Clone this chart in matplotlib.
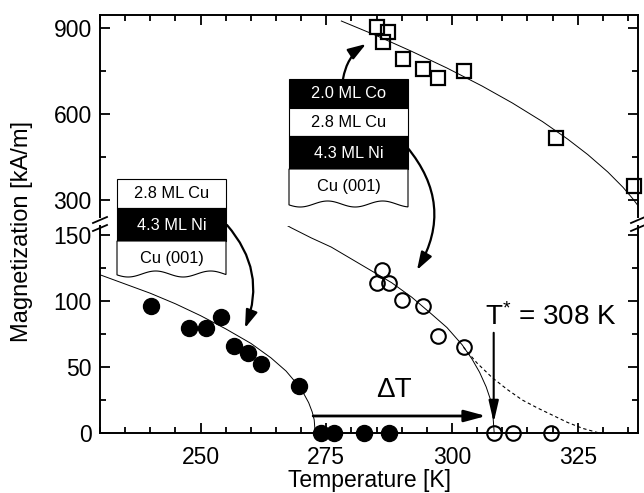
import matplotlib
matplotlib.use("Agg")
import matplotlib.pyplot as plt
import numpy as np
from matplotlib.patches import Rectangle, Polygon, FancyArrowPatch
from matplotlib.ticker import MultipleLocator

plt.rcParams['font.family'] = ['Liberation Sans', 'DejaVu Sans']
plt.rcParams['mathtext.fontset'] = 'custom'
plt.rcParams['mathtext.rm'] = 'Liberation Sans'
plt.rcParams['mathtext.it'] = 'Liberation Sans:italic'

## open squares: Co layer of Co/Cu/Ni/Cu(001) (upper part, kA/m)
co_T = [285.0, 287.3, 286.2, 290.2, 294.3, 297.2, 302.3, 320.6, 336.2]
co_M = [903, 886, 851, 792, 757, 726, 750, 517, 349]
co_fit_T = [278, 285, 292, 299, 306, 312, 318, 323, 327, 331, 334, 336, 338]
co_fit_M = [924, 873, 818, 760, 697, 638, 573, 512, 458, 397, 344, 303, 256]

## open circles: Ni layer in Co/Cu/Ni/Cu(001)
nico_T = [286.0, 285.0, 287.4, 290.0, 294.2, 297.3, 302.3, 308.3, 312.2, 319.6]
nico_M = [124, 114, 114, 101, 96, 73.5, 65, 0, 0, 0]
nico_fit_T = [266, 268, 272, 276, 280, 284, 288, 292, 296, 299, 302, 304, 305.5, 306.8, 307.6, 308.1, 308.4]
nico_fit_M = [160, 155.7, 148, 141, 132, 123, 114, 103, 90, 80, 67, 56, 46, 35, 26, 16, 0]
nico_dash_T = [302.3, 305, 308, 311, 314, 317, 320, 323, 326, 329.3]
nico_dash_M = [65, 53, 42, 33, 25, 19, 13.5, 8, 3.5, 0]

## filled circles: Ni layer in Cu/Ni/Cu(001)
ni_T = [240.2, 247.7, 251.0, 254.0, 256.7, 259.5, 262.0, 269.5, 274.0, 276.5, 282.5, 287.5]
ni_M = [96, 80, 80, 88, 66, 61, 52, 36, 0, 0, 0, 0]
ni_fit_T = [230, 235, 240, 245, 250, 255, 260, 264, 267, 269, 270.5, 271.5, 272.2, 272.6, 272.8]
ni_fit_M = [120, 113, 106, 98, 89, 79, 68, 57, 47, 38, 30, 23, 16, 10, 0]

## annotations
dT_from, dT_to, dT_level = 272.4, 306.8, 12.9
Tstar = 308.3
Tstar_top, Tstar_bot = 76, 8

left_stack = ['2.8 ML Cu', '4.3 ML Ni', 'Cu (001)']
left_dark = [False, True, False]
right_stack = ['2.0 ML Co', '2.8 ML Cu', '4.3 ML Ni', 'Cu (001)']
right_dark = [True, False, True, False]

W, H = 644.0, 493.0
fig = plt.figure(figsize=(W / 100, H / 100), dpi=100)

def px_rect(x0, y0, x1, y1):
    ## pixel box measured from the top-left -> figure fraction
    return [x0 / W, 1 - y1 / H, (x1 - x0) / W, (y1 - y0) / H]

ax_top = fig.add_axes(px_rect(100, 15, 638, 217))
ax_bot = fig.add_axes(px_rect(100, 226, 638, 433))

ax_top.plot(co_fit_T, co_fit_M, 'k-', lw=0.7)
ax_top.plot(co_T, co_M, 's', ms=9.5, mfc='none', mec='k', mew=1.6, clip_on=False)

ax_bot.plot(ni_fit_T, ni_fit_M, 'k-', lw=0.7)
ax_bot.plot(nico_fit_T, nico_fit_M, 'k-', lw=0.7)
ax_bot.plot(nico_dash_T, nico_dash_M, 'k-', lw=0.8, dashes=(3, 2.5))
ax_bot.plot(ni_T, ni_M, 'o', ms=11.5, mfc='k', mec='k', clip_on=False, zorder=5)
ax_bot.plot(nico_T, nico_M, 'o', ms=10.5, mfc='none', mec='k', mew=1.5, clip_on=False, zorder=5)

for ax in (ax_top, ax_bot):
    ax.set_xlim(230, 337)
    ax.xaxis.set_major_locator(MultipleLocator(25))
    ax.xaxis.set_minor_locator(MultipleLocator(5))
    ax.tick_params(which='both', direction='in', right=True, width=1.3, labelsize=16.5)
    ax.tick_params(which='major', length=7)
    ax.tick_params(which='minor', length=4)
    for s in ax.spines.values():
        s.set_linewidth(1.4)

ax_top.set_ylim(240, 945)
ax_top.yaxis.set_major_locator(MultipleLocator(300))
ax_top.yaxis.set_minor_locator(MultipleLocator(150))
ax_top.spines['bottom'].set_visible(False)
ax_top.tick_params(axis='x', which='both', bottom=False, top=True, labelbottom=False)
ax_top.tick_params(axis='y', pad=6)

ax_bot.set_ylim(0, 157)
ax_bot.yaxis.set_major_locator(MultipleLocator(50))
ax_bot.yaxis.set_minor_locator(MultipleLocator(25))
ax_bot.spines['top'].set_visible(False)
ax_bot.tick_params(axis='x', which='both', top=False, pad=9)
ax_bot.tick_params(axis='y', pad=6)

## delta T and T* arrows
ax_bot.annotate('', xy=(dT_to, dT_level), xytext=(dT_from, dT_level),
                arrowprops=dict(arrowstyle='-|>,head_length=1.3,head_width=0.35',
                                lw=2, color='k', shrinkA=0, shrinkB=0))
ax_bot.text((dT_from + dT_to) / 2 - 1.2, 32.6, '\u0394T', ha='center', va='center', fontsize=20)
ax_bot.annotate('', xy=(Tstar, Tstar_bot), xytext=(Tstar, Tstar_top),
                arrowprops=dict(arrowstyle='-|>,head_length=1.3,head_width=0.3',
                                lw=1.5, color='k', shrinkA=0, shrinkB=0))
ax_bot.text(306.5, 81.8, 'T$^{*}$ = 308 K', ha='left', va='baseline', fontsize=20)

fig.text(369 / W, 1 - 481 / H, 'Temperature [K]', ha='center', va='center', fontsize=16.5)
fig.text(22 / W, 1 - 232 / H, 'Magnetization [kA/m]', rotation=90,
         ha='center', va='center', fontsize=17)

## overlay in pixel coordinates for the sketches, arrows and axis break
ov = fig.add_axes([0, 0, 1, 1])
ov.set_xlim(0, W)
ov.set_ylim(H, 0)
ov.axis('off')

def layer_stack(x0, x1, bounds, wave_y, labels, dark):
    for i, lab in enumerate(labels):
        top = bounds[i]
        fc = 'k' if dark[i] else 'w'
        if i < len(bounds) - 1:
            bot = bounds[i + 1]
            ov.add_patch(Rectangle((x0, top), x1 - x0, bot - top, fc=fc, ec='k', lw=0.8))
            ymid = (top + bot) / 2
        else:
            xs = np.linspace(x1, x0, 100)
            ys = wave_y + 3 * np.sin(2 * np.pi * (xs - x0) / 55.0 + 0.3)
            pts = [(x0, top), (x1, top)] + list(zip(xs, ys))
            ov.add_patch(Polygon(pts, closed=True, fc=fc, ec='k', lw=0.8))
            ymid = (top + wave_y) / 2
        ov.text((x0 + x1) / 2, ymid + 0.5, lab, color='w' if dark[i] else 'k',
                ha='center', va='center', fontsize=11.8)

layer_stack(117, 226, [179, 208, 241], 274, left_stack, left_dark)
layer_stack(289, 408, [79, 108, 136, 169], 204, right_stack, right_dark)

def curved_arrow(p0, p1, rad):
    ov.add_patch(FancyArrowPatch(p0, p1, connectionstyle='arc3,rad=%s' % rad,
                                 arrowstyle='-|>,head_length=0.9,head_width=0.3',
                                 mutation_scale=12, lw=1.6, color='k',
                                 shrinkA=0, shrinkB=0))

curved_arrow((227, 225), (245, 328), -0.3)
curved_arrow((343, 79), (366, 44), -0.22)
curved_arrow((407, 147), (417, 270), -0.35)

## axis break marks
for xb in (100, 638):
    for yb in (220, 228):
        ov.plot([xb - 7, xb + 7], [yb + 3, yb - 3], 'k-', lw=1.3, clip_on=False)

fig.savefig('out.png', dpi=100)
